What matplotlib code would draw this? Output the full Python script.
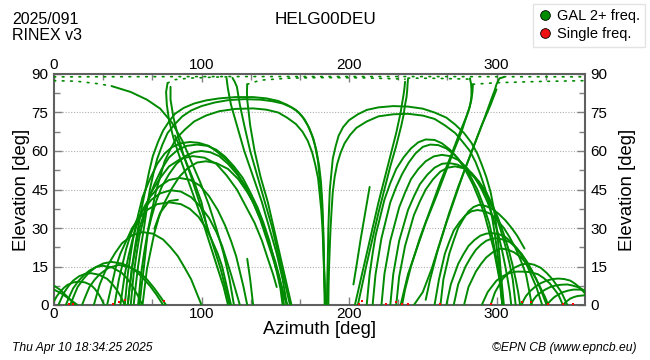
import matplotlib
matplotlib.use("Agg")
import matplotlib.pyplot as plt
from matplotlib.lines import Line2D
from matplotlib.ticker import MultipleLocator

plt.rcParams['font.family'] = ['Liberation Sans', 'DejaVu Sans']

# Galileo tracks: (azimuth, elevation) in degrees
left_low = [
    [(0, 7.5), (4, 6), (8, 3.8), (12, 1.5), (14, 0)],
    [(0, 6), (5, 4.5), (10, 2.5), (16, 0)],
    [(0, 1.5), (2, 3.5), (4, 5), (6.5, 6.6), (9, 7.8), (13, 8.8), (17, 9.1), (21, 8.8), (25, 7.8), (27.5, 6.4), (30, 4.5), (32, 2.5), (34, 0)],
    [(3, 0), (5, 2.6), (7, 5), (10, 7.5), (13, 9.5), (17, 11.2), (21, 12.1), (25, 12.4), (30.5, 11.8), (36, 10.2), (39.5, 8.2), (43, 5.5), (45.5, 3), (48, 0)],
    [(8, 0), (10.5, 3.4), (13, 6.5), (16.5, 9.3), (20, 11.5), (24, 13.4), (28.5, 14.8), (33, 15.3), (39.5, 14.6), (46, 12.5), (50, 10), (54, 6.5), (57, 3.5), (60, 0)],
    [(11, 0), (13.5, 3.6), (16, 7), (20, 10.2), (24, 12.8), (28.5, 14.8), (33.5, 16.2), (39, 16.8), (46.5, 16.1), (54, 14), (59.5, 11), (65, 7.5), (69.5, 4), (74, 0)],
    [(19, 0), (21.5, 3.6), (24, 7), (27.5, 9.8), (31, 12), (37, 14.5), (44, 15.6), (51, 14.8), (58, 12.8), (63, 10), (68, 6.5), (72, 3.3), (76, 0)],
    [(27, 0), (29, 4), (31, 8), (34, 12.2), (37, 16), (41.5, 20.3), (46, 24), (53, 27.2), (60, 28.4), (67, 27.8), (74, 25.5), (79, 22.5), (84, 19), (88.5, 14.6), (93, 10), (96.5, 5), (100, 0)],
]

left_mid = [
    [(36, 0), (38, 5), (40, 10), (42, 15), (45, 20), (49, 25), (53, 30), (58, 34), (63, 37), (70, 39.3), (78, 40), (86, 39.3), (92, 37.5), (98, 34.3), (103, 30), (107, 25.3), (111, 20), (114, 15), (116, 10), (118, 5), (120, 0)],
    [(41, 0), (42.5, 5), (44, 10), (46.5, 16), (49, 22), (52, 27.5), (56, 33), (61, 37.5), (66, 41), (72, 43.5), (79, 44.7), (86, 44.2), (93, 42), (99, 38.5), (105, 34), (110, 28.5), (114, 23), (117, 17.5), (120, 12), (123, 6), (126, 0)],
    [(45, 0), (46.5, 6), (48, 12), (50.5, 19), (53, 25), (56, 31), (60, 37), (65, 42), (71, 46), (78, 48.7), (85, 49.5), (92, 48.8), (99, 46.5), (105, 42.5), (111, 37), (116, 31), (120, 25), (123.5, 19), (126, 13), (128.5, 7), (131, 0)],
    [(50, 0), (51.5, 8), (53, 15), (55.5, 23), (58, 30), (62, 37.5), (66, 44), (72, 49.5), (78, 54), (86, 57), (94, 58), (102, 57.4), (110, 55), (117, 50.5), (124, 45), (130, 38.5), (136, 32), (141, 25), (145, 18), (148.5, 12), (151, 7)],
    [(52, 0), (53, 6), (54, 12), (56, 20), (58, 27), (61, 34), (64, 41), (68, 47), (73, 53), (78, 57.5), (84, 60.5), (90, 62), (97, 62.5), (104, 62), (110, 60.5), (116, 57.8), (122, 54), (128, 49.5), (133, 44), (138, 38), (142, 32), (146, 25), (149, 18), (152, 12), (154, 7), (156, 0)],
    [(57, 0), (58, 6), (59, 12), (61, 20), (63, 27), (66, 34), (69, 40), (73, 46), (78, 51), (83, 55), (89, 58), (95, 59.6), (100, 60), (106, 59.5), (112, 58), (118, 55), (124, 51), (130, 46), (135, 40), (140, 33.5), (144, 27), (148, 20), (151, 13), (153.5, 6.5), (155, 0)],
    [(60, 0), (61.5, 7), (63, 14), (65.5, 21), (68, 28), (71, 34), (75, 40), (80, 45.5), (85, 50), (91, 53.5), (97, 55.5), (103, 56), (110, 55.3), (118, 53), (125, 49), (131, 44), (137, 38), (142, 31), (146, 24), (150, 17), (153, 10.5), (155, 5), (158, 0)],
    [(48, 0), (49, 6), (50, 12), (52, 20), (54, 27), (57, 35), (60, 42), (65, 49), (70, 55), (75, 59), (80, 61.5), (86, 63), (92, 63.5), (98, 63.2), (105, 62), (111, 59.5), (118, 56), (124, 51.5), (130, 46), (135, 40), (140, 33), (144, 26), (148, 19), (151, 13.5), (154, 8), (158, 0)],
    [(68, 29.7), (72, 36), (78, 40.5), (84, 41)],
]

left_high = [
    [(50, 0), (51.5, 8), (53, 15), (55, 23), (57, 30), (59.5, 38), (62, 45), (64.5, 52), (67, 58), (70.5, 63.5), (74, 68), (78, 71.5), (82, 74.5), (88, 76.8), (95, 78.5), (103, 79.7), (112, 80.5), (123, 81), (135, 81), (144, 80.5), (152, 79.5), (158, 78), (164, 76), (168.5, 73.3), (172, 70), (175, 66), (177, 62), (179, 56), (180, 50), (181.2, 43), (182, 35), (182.6, 27), (183, 18), (183.5, 9), (184, 0)],
    [(54, 0), (55.5, 8), (57, 15), (59, 23), (61, 30), (63, 38), (65, 45), (67.5, 51.5), (70, 57), (73.5, 62.5), (77, 67), (82, 70.5), (87, 73.5), (93, 75.8), (100, 77.5), (109, 78.9), (118, 79.8), (129, 80.2), (140, 80), (148, 79.4), (155, 78.5), (161, 77), (166, 75), (170, 72.2), (173, 69), (176, 64.5), (178, 60), (179.8, 54), (181, 48), (182, 39), (182.5, 30), (182.8, 22), (183, 15), (183.3, 7), (183.5, 0)],
    [(58, 0), (59.5, 8), (61, 15), (62.5, 23), (64, 30), (66.5, 37), (69, 44), (72, 50), (75, 56), (79, 60.8), (83, 65), (89, 68.5), (95, 71.5), (103, 73.8), (112, 75.5), (123, 76.4), (135, 76.6), (144, 76.1), (152, 75), (158, 73), (164, 70.5), (168.5, 67.5), (172, 64), (175, 59.5), (177, 55), (179, 49.5), (180, 44), (181.2, 37), (182, 30), (182.6, 22), (183, 15), (183.5, 7), (184, 0)],
]

left_steep = [
    [(39, 85.3), (52, 83), (63, 80), (72, 76.5), (80, 71), (87, 64), (93, 56), (99, 48), (105, 39), (110, 30), (115, 20), (119, 10), (122, 0)],
    [(77, 86.5), (76, 83), (76.5, 78), (78, 72), (81, 65), (85, 58), (90, 50), (95, 42), (100, 34), (105, 25), (110, 16), (115, 7), (118, 0)],
    [(79, 85), (79, 80), (81, 73), (84, 66), (88, 58), (93, 50), (98, 41), (103, 32), (108, 23), (113, 14), (117, 5), (119, 0)],
    [(82, 66), (88, 58), (95, 48), (100, 40), (104, 29.5)],
    [(117, 88.3), (117.5, 86), (118, 84), (119, 81), (120, 78), (122, 74), (124, 70), (126.5, 65), (129, 60), (135, 50), (141, 40), (146, 30), (151, 20), (155, 10), (158, 0)],
    [(121, 88.5), (122.5, 87), (124, 85), (125, 81.5), (126, 78), (127.5, 74), (129, 70), (133, 60), (138, 50), (143, 40), (148, 30), (152, 20), (156, 10), (160, 0)],
    [(131, 86), (130.8, 83), (131, 80), (132, 75), (133, 70), (136, 60), (140, 50), (145, 40), (149, 30), (153, 20), (157, 10), (161, 0)],
    [(131, 18), (133, 10), (135, 0)],
]

right_high = [
    [(185, 0), (185.2, 8), (185.5, 15), (185.8, 23), (186, 30), (186.5, 38), (187, 45), (188, 51), (189, 57), (191, 62), (193, 66), (196, 69.3), (200, 72), (206, 74.3), (212, 76), (220, 77), (230, 77.5), (240, 77.3), (250, 76.5), (258, 75), (266, 73), (272, 70.3), (278, 67), (283, 63.2), (287, 59), (290, 54.7), (293, 50), (296, 44), (298, 38), (299.8, 31.5), (301, 25), (302.2, 18), (303, 12), (304, 6), (305, 0)],
    [(186, 0), (186.2, 8), (186.5, 15), (187, 23), (187.5, 30), (188.2, 37), (189, 44), (190.3, 50), (192, 55), (194.3, 59.3), (197, 63), (200.8, 66.3), (205, 69), (212, 71.5), (220, 73.5), (230, 74.3), (240, 74.5), (250, 73.8), (258, 72.5), (265, 70), (272, 67), (277, 63.6), (282, 60), (285.8, 55.7), (289, 51), (292.2, 45.5), (295, 40), (297.2, 33.5), (299, 27), (300.6, 20.5), (302, 14), (303, 7), (304, 0)],
]

right_steep = [
    [(240, 88), (239.7, 86), (239.5, 84), (239, 81), (238, 78), (237, 74), (235.5, 70), (232, 62), (228, 54), (224, 45), (220, 36), (216, 26), (212, 16), (209, 8), (206, 0)],
    [(238, 87), (237.6, 84.5), (237, 82), (236, 78.5), (235, 75), (232, 67), (228, 58), (224, 49), (220, 40), (216, 30), (212, 20), (208, 10), (204, 0)],
    [(282, 88.3), (282.8, 86), (283, 84), (283, 81.5), (282.5, 79), (281.5, 76.5), (280, 74), (276, 67), (271, 60), (265, 51), (259, 42), (252, 32), (246, 22), (240, 12), (235, 0)],
    [(284, 86), (283.7, 83), (283, 80), (281.7, 77), (280, 74), (275, 67), (269, 58), (262, 48), (255, 37), (248, 26), (242, 15), (238, 6), (236, 0)],
    [(305, 88.8), (302, 88.3), (300, 86), (298.7, 83.5), (297, 81), (292, 73), (286, 64), (280, 55), (274, 46), (268, 36), (262, 25), (256, 14), (250, 5), (244, 0)],
    [(300, 84), (296, 78), (290, 70), (284, 61), (278, 52), (272, 42), (266, 32), (260, 21), (255, 10), (252, 2)],
    [(214, 46), (211, 36), (208, 26), (205, 15), (203, 8)],
]

right_mid = [
    [(212, 0), (213, 6), (214, 12), (216, 20), (218, 27), (221, 34), (224, 41), (228, 47.5), (232, 53), (237, 57.5), (242, 61), (247, 63.4), (252, 64.5), (258, 64.3), (263, 63), (268.5, 60.5), (274, 57), (279, 52.5), (284, 47), (288, 41.5), (292, 35), (295, 28.5), (298, 22), (300, 16), (302, 10), (303, 5), (304, 0)],
    [(216, 0), (217, 6), (218, 12), (220, 19), (222, 26), (225, 33), (228, 40), (232, 46), (236, 51), (240.5, 55.5), (245, 59), (250, 61.6), (255, 62.5), (260.5, 62.3), (266, 61), (271.5, 58.5), (277, 55), (282, 50.5), (287, 45), (291, 39), (295, 32), (297.7, 25), (300, 18), (301.8, 11.5), (303, 6), (304, 0)],
    [(222, 0), (223, 6), (224, 12), (226, 18.5), (228, 25), (231, 31.5), (234, 38), (238, 43.8), (242, 49), (247, 53), (252, 56), (257.5, 57.9), (263, 58.5), (268.5, 58), (274, 56.5), (279.5, 53.7), (285, 50), (289.7, 45.3), (294, 40), (297.7, 34), (301, 28), (303.7, 21.5), (306, 15), (307.7, 9.5), (309, 5), (310, 0)],
    [(228, 0), (229, 6), (230, 12), (232, 18.5), (234, 25), (237, 31), (240, 37), (244, 42.3), (248, 47), (253, 50.7), (258, 53.5), (263, 55), (268, 55.3), (273.5, 54.7), (279, 53), (284.5, 50), (290, 46), (294.5, 41.2), (299, 36), (302.7, 29.5), (306, 23), (308.7, 16.5), (311, 10), (312, 5), (313, 0)],
    [(232, 0), (233, 5.5), (234, 11), (236, 17), (238, 23), (241, 29), (244, 35), (248, 40.3), (252, 45), (257, 49), (262, 52), (267, 53.5), (272, 54), (277.5, 53.3), (283, 51.5), (288, 48.2), (293, 44), (297, 39.3), (301, 34), (304.7, 28), (308, 22), (310.7, 16), (313, 10), (314.7, 5), (316, 0)],
    [(262, 0), (263, 5), (264, 10), (266, 15), (268, 20), (271, 25.2), (274, 30), (277.5, 33.5), (281, 36.5), (284.5, 38.2), (288, 39), (292.5, 38.6), (297, 37.5), (301.5, 35.5), (306, 33), (310, 30.2), (314, 27), (316.5, 24.5), (319, 22)],
    [(258, 0), (259.5, 5), (261, 10), (263, 15), (265, 20), (268, 24.7), (271, 29), (275, 32.3), (279, 35), (283, 36.5), (287, 37), (291.5, 36.6), (296, 35.5), (300.5, 33), (305, 30), (309, 26.3), (313, 22), (316.7, 17), (320, 12), (322, 6), (324, 0)],
]

right_low = [
    [(266, 0), (267.5, 4), (269, 8), (271.5, 12), (274, 16), (277.5, 19.7), (281, 23), (285, 25.3), (289, 27), (293, 27.8), (297, 28), (301.5, 27.6), (306, 26.5), (310, 24.5), (314, 22), (317.5, 18.7), (321, 15), (324, 11), (327, 7), (329, 3.5), (331, 0)],
    [(271, 0), (272.5, 4), (274, 8), (276.5, 11.5), (279, 15), (282.5, 18.5), (286, 21.5), (289.5, 23.5), (293, 25), (296.5, 25.8), (300, 26), (304.5, 25.5), (309, 24.5), (313, 22.5), (317, 20), (320.5, 17), (324, 13.5), (327, 10), (330, 6), (332, 3), (334, 0)],
    [(278, 0), (279.5, 3.5), (281, 7), (283.5, 10), (286, 13), (289.5, 16), (293, 18.5), (298, 20.8), (303, 22), (307.5, 21.6), (312, 20.5), (316, 18.8), (320, 16.5), (323.5, 13.5), (327, 10), (330, 6.5), (333, 3), (335, 0)],
    [(296, 0), (297.5, 2.5), (299, 5), (301.5, 7.5), (304, 10), (308, 12.5), (312, 14.5), (316.5, 15.7), (321, 16.2), (325.5, 15.7), (330, 14.5), (334, 12.5), (338, 10), (341, 7.5), (344, 5), (346, 2.5), (348, 0)],
    [(290, 0), (292, 2.5), (294, 5), (297, 7.3), (300, 9.5), (304.5, 11.3), (309, 12.5), (313.5, 13), (318, 13), (323, 12.8), (328, 12), (332, 10.5), (336, 8.5), (339, 6.3), (342, 4), (343.5, 2), (345, 0)],
    [(317, 0), (318.5, 2), (320, 3.5), (323, 5.5), (326, 7), (330, 8.5), (334, 9.5), (338, 10.1), (342, 10.3), (346, 10.1), (350, 9.5), (353, 8.4), (356, 7), (358, 5.8), (360, 4.5)],
    [(323, 0), (325, 2), (327, 3.5), (330, 4.9), (333, 6), (336.5, 7), (340, 7.6), (344, 7.9), (348, 8), (351.5, 7.6), (355, 7), (357.5, 6.3), (360, 5.5)],
    [(334, 0), (336.5, 1.6), (339, 3), (342, 4.1), (345, 5), (348.5, 5.6), (352, 6), (356, 6), (360, 5.8)],
    [(345, 0), (347.5, 1.4), (350, 2.5), (352.5, 3.1), (355, 3.5), (360, 3.8)],
]

# sparse samples close to the zenith (drawn dotted)
zenith_rows = [
    [(0, 88.9), (120, 89.0), (240, 89.0), (360, 88.9)],
    [(0, 87.4), (15, 87.2), (30, 86.2), (39, 85.3)],
    [(77, 86.5), (82, 87.8), (92, 88.4), (110, 88.8), (120, 88.9)],
    [(131, 86), (140, 87.6), (160, 88.4), (180, 88.6), (210, 88.5), (238, 88.0)],
    [(240, 88.4), (260, 88.3), (282, 88.0)],
    [(284, 86), (300, 86.6), (330, 87.1), (360, 87.4)],
]

# single frequency observations at rise/set
single_az = [10, 13, 40, 44, 48, 74.5, 207, 208.5, 225, 232, 236, 240, 262, 296.5, 317, 323.6, 334.7, 345, 352]
single_el = [0.5, 0.5, 0.5, 1.0, 2.0, 1.7, 0.5, 1.5, 0.5, 1.0, 0.5, 0.5, 0.5, 0.5, 1.0, 1.0, 0.5, 0.5, 0.5]

green = '#008a00'

fig = plt.figure(figsize=(6.5, 3.6), dpi=100)
ax = fig.add_axes([54 / 650, 55 / 360, 531 / 650, 231 / 360])

for group in [left_low, left_mid, left_high, left_steep,
              right_high, right_steep, right_mid, right_low]:
    for trk in group:
        az = [p[0] for p in trk]
        el = [p[1] for p in trk]
        ax.plot(az, el, color=green, lw=1.4, solid_joinstyle='round',
                solid_capstyle='round', zorder=3)

for row in zenith_rows:
    az = [p[0] for p in row]
    el = [p[1] for p in row]
    ax.plot(az, el, color=green, lw=1.2, ls=(0, (1, 4)),
            dash_capstyle='round', zorder=3)

ax.plot(single_az, single_el, 's', color='red', ms=1.8, mew=0, zorder=4)

ax.set_xlim(0, 360)
ax.set_ylim(0, 90)
ax.xaxis.set_major_locator(MultipleLocator(100))
ax.xaxis.set_minor_locator(MultipleLocator(100 / 3))
ax.yaxis.set_major_locator(MultipleLocator(15))
ax.yaxis.set_minor_locator(MultipleLocator(7.5))
ax.grid(axis='y', which='major', color='#b0b0b0', ls=(0, (1, 1.5)), lw=0.8)

ax.tick_params(which='both', direction='in', top=True, right=True,
               labeltop=True, labelright=True, color='#808080',
               labelsize=11)
ax.tick_params(axis='x', pad=1.5)
ax.tick_params(axis='y', pad=4)
ax.tick_params(which='major', length=6, width=1)
ax.tick_params(which='minor', length=4, width=1)
for s in ax.spines.values():
    s.set_color('#606060')
    s.set_linewidth(1.5)

ax.set_xlabel('Azimuth [deg]', fontsize=13.3, labelpad=0)
ax.set_ylabel('Elevation [deg]', fontsize=13.3, labelpad=1)
fig.text(627 / 650, 1 - 0.5 * (74 + 305) / 360, 'Elevation [deg]', fontsize=13.3,
         rotation=90, ha='center', va='center')

fig.text(12 / 650, 1 - 19 / 360, '2025/091', fontsize=11.5, va='center')
fig.text(12 / 650, 1 - 35 / 360, 'RINEX v3', fontsize=11.5, va='center')
fig.text(325 / 650, 1 - 20 / 360, 'HELG00DEU', fontsize=12.3, ha='center', va='center')

handles = [
    Line2D([], [], ls='none', marker='o', ms=7, mfc='#008a00', mec='black', mew=0.6, label='GAL 2+ freq.'),
    Line2D([], [], ls='none', marker='o', ms=7, mfc='#ee1111', mec='black', mew=0.6, label='Single freq.'),
]
fig.legend(handles=handles, loc='upper right', bbox_to_anchor=(645 / 650, 1 - 4 / 360),
           fontsize=10.5, frameon=True, fancybox=False, edgecolor='#dddddd',
           handletextpad=0.3, borderpad=0.35, labelspacing=0.3, handlelength=1.0,
           borderaxespad=0)

fig.text(12 / 650, 1 - 348 / 360, 'Thu Apr 10 18:34:25 2025', fontsize=8.7,
         style='italic', va='center')
fig.text(637 / 650, 1 - 348 / 360, '\u00a9EPN CB (www.epncb.eu)', fontsize=8.7,
         style='italic', va='center', ha='right')

fig.savefig('out.png', dpi=100)
